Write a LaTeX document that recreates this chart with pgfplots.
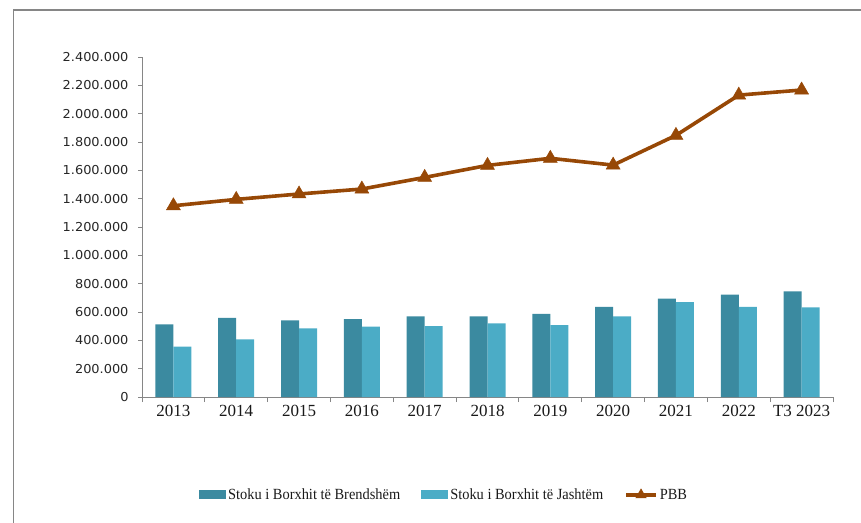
\documentclass[border=0pt]{standalone}
\usepackage{pgfplots}
\pgfplotsset{compat=1.18}
\usepackage{fontspec}
\setmainfont{Liberation Serif}
\newfontfamily\yfont[FakeStretch=1.05]{DejaVu Sans}
\newfontfamily\legfont[FakeStretch=0.93]{Liberation Serif}
\definecolor{darkbar}{HTML}{3B8AA0}
\definecolor{lightbar}{HTML}{4BACC6}
\definecolor{pbb}{HTML}{974806}
\definecolor{axisgray}{HTML}{868686}
\begin{document}
\begin{tikzpicture}
\useasboundingbox (0pt,0pt) rectangle (861pt,-522pt);
\draw[axisgray, line width=1.3pt] (13.5pt,-530pt) -- (13.5pt,-10pt) -- (870pt,-10pt);
\begin{axis}[
  at={(142pt,-397pt)}, anchor=south west,
  scale only axis, width=691pt, height=340pt,
  xmin=-0.5, xmax=10.5, ymin=0, ymax=2400000,
  axis lines*=left,
  axis line style={axisgray, line width=1pt},
  xtick={0,...,10},
  xticklabels={2013,2014,2015,2016,2017,2018,2019,2020,2021,2022,T3 2023},
  minor xtick={-0.5,0.5,...,10.5},
  major x tick style={draw=none},
  minor x tick style={axisgray, line width=1pt},
  minor tick length=5pt,
  ytick={0,200000,...,2400000},
  y tick style={axisgray, line width=1pt},
  major tick length=4pt,
  tick align=outside,
  scaled y ticks=false,
  yticklabel style={/pgf/number format/fixed, /pgf/number format/1000 sep={.}, /pgf/number format/assume math mode=true},
  yticklabel style={font=\yfont\fontsize{12.3}{14}\selectfont, text=black!85, xshift=-6pt},
  xticklabel style={font=\fontsize{17}{19}\selectfont, text=black!90, yshift=-1pt},
  legend columns=3,
  legend style={at={(axis description cs:0.078,-0.288)}, anchor=west, draw=none, fill=none,
    font=\legfont\fontsize{15.5}{17}\selectfont, text=black!90,
    /tikz/every even column/.append style={column sep=19pt}},
]
\addplot[ybar, bar width=18pt, bar shift=-9pt, fill=darkbar, draw=none,
  legend image code/.code={\fill[darkbar] (0pt,-4.5pt) rectangle (27pt,4.5pt);}]
  coordinates {(0,513000) (1,558000) (2,541000) (3,550000) (4,569000) (5,569000) (6,586000) (7,637000) (8,694000) (9,722000) (10,746000)};
\addlegendentry{Stoku i Borxhit të Brendshëm}
\addplot[ybar, bar width=18pt, bar shift=9pt, fill=lightbar, draw=none,
  legend image code/.code={\fill[lightbar] (0pt,-4.5pt) rectangle (27pt,4.5pt);}]
  coordinates {(0,355000) (1,407000) (2,485000) (3,496000) (4,501000) (5,520000) (6,508000) (7,569000) (8,670000) (9,637000) (10,633000)};
\addlegendentry{Stoku i Borxhit të Jashtëm}
\addplot[pbb, line width=3.6pt, mark=triangle*, mark size=8pt, mark options={solid, line width=0.5pt},
  legend image code/.code={\draw[pbb, line width=3.6pt, mark=triangle*, mark size=6pt, mark options={solid, line width=0.5pt}, mark repeat=2, mark phase=2] plot coordinates {(0pt,0pt) (15pt,0pt) (30pt,0pt)};}]
  coordinates {(0,1350000) (1,1395000) (2,1433000) (3,1468000) (4,1550000) (5,1635000) (6,1685000) (7,1637000) (8,1847000) (9,2131000) (10,2167000)};
\addlegendentry{PBB}
\end{axis}
\end{tikzpicture}
\end{document}
